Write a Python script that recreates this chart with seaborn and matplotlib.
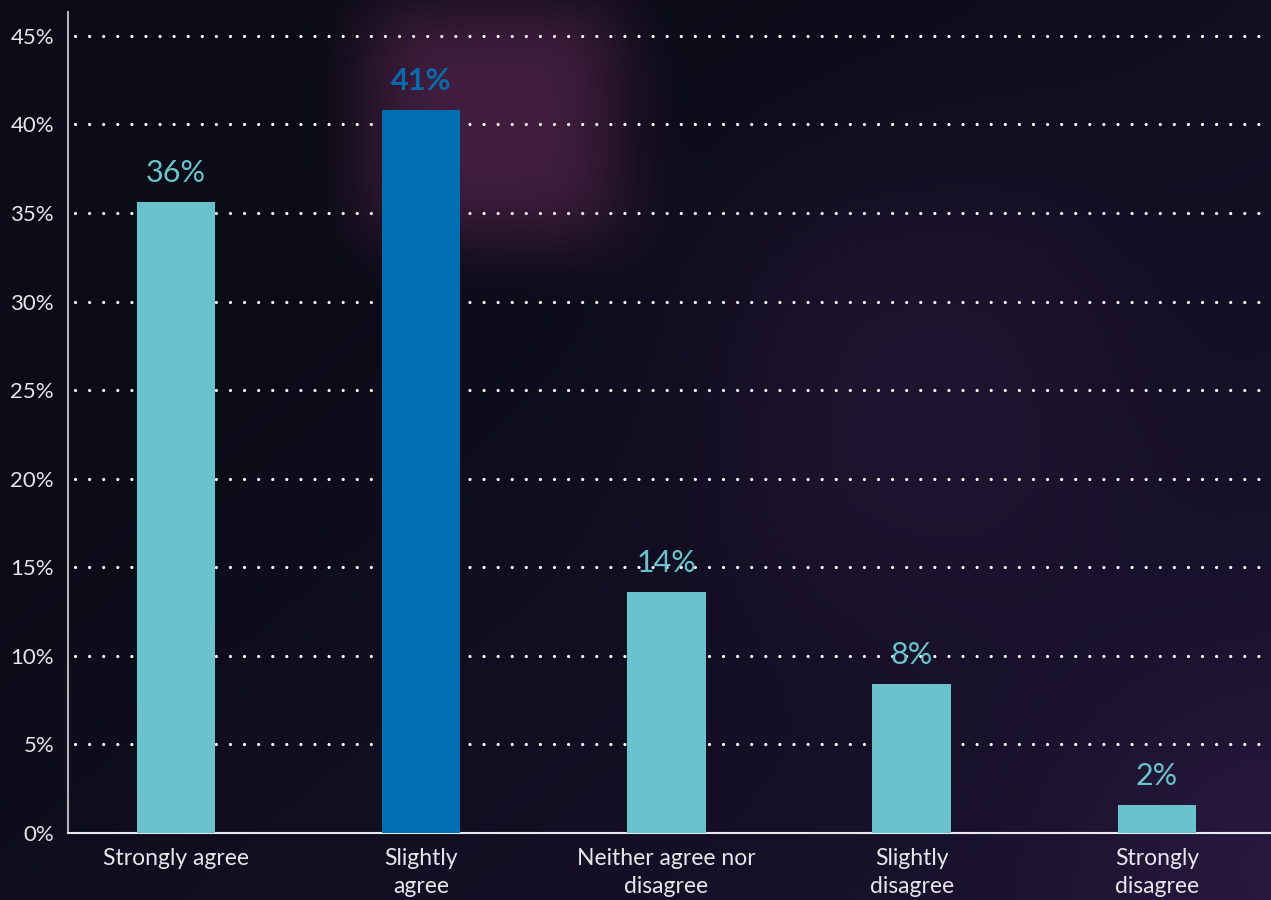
import numpy as np
import pandas as pd
import matplotlib
matplotlib.use("Agg")
import matplotlib.pyplot as plt
import seaborn as sns

# Survey responses
categories = ["Strongly agree", "Slightly\nagree", "Neither agree nor\ndisagree",
              "Slightly\ndisagree", "Strongly\ndisagree"]
shares = [35.6, 40.8, 13.6, 8.4, 1.6]
bar_colors = ["#6ac3cc", "#0070b2", "#6ac3cc", "#6ac3cc", "#6ac3cc"]
yticks = [0, 5, 10, 15, 20, 25, 30, 35, 40, 45]

sns.set_theme(style="dark")
plt.rcParams["font.family"] = ["Lato", "DejaVu Sans"]

W, H = 1271, 900
fig = plt.figure(figsize=(W / 100, H / 100), dpi=100)

# Dark backdrop with soft purple glows
bg = fig.add_axes([0, 0, 1, 1], zorder=0)
bg.set_axis_off()
yy, xx = np.mgrid[0:H:2, 0:W:2].astype(float)
base = np.array([10, 11, 22], float) / 255
tint = np.array([30, 20, 52], float) / 255
t = np.clip((xx / W) * 0.6 + (yy / H) * 0.5 - 0.25, 0, 1)
img = base[None, None, :] * (1 - t[..., None]) + tint[None, None, :] * t[..., None]


def glow(cx, cy, rx, ry, color, strength, power=4):
    d = (np.abs(xx - cx) / rx) ** power + (np.abs(yy - cy) / ry) ** power
    w = np.exp(-d) * strength
    c = np.array(color, float) / 255
    return w[..., None], c


for cx, cy, rx, ry, col, s, p in [
    (492, 120, 135, 125, (68, 30, 64), 0.95, 4),
    (920, 400, 200, 220, (40, 24, 58), 0.55, 2.5),
    (1271, 860, 220, 200, (48, 28, 72), 0.55, 2),
]:
    w, c = glow(cx, cy, rx, ry, col, s, p)
    img = img * (1 - w) + c[None, None, :] * w

bg.imshow(img, extent=[0, 1, 0, 1], aspect="auto", transform=bg.transAxes)

# Bar chart
left, bottom = 68 / W, (H - 833) / H
ax = fig.add_axes([left, bottom, 1 - left, (833 - 12) / H], zorder=1)
ax.set_facecolor("none")

df = pd.DataFrame({"category": categories, "share": shares})
sns.barplot(data=df, x="category", y="share", hue="category",
            palette=bar_colors, width=0.32, saturation=1, legend=False,
            linewidth=0, edgecolor="none", ax=ax, zorder=3)

ax.set_xlim(-0.44, 4.465)
ax.set_ylim(0, 46.35)
ax.set_yticks(yticks)
ax.set_yticklabels([f"{v}%" for v in yticks], color="#e6e6ea", fontsize=16)
ax.tick_params(axis="x", colors="#e6e6ea", labelsize=16.5, length=0, pad=11)
ax.tick_params(axis="y", length=0, pad=10)
ax.set_xlabel("")
ax.set_ylabel("")

for lab in ax.get_xticklabels():
    lab.set_linespacing(1.38)
    lab.set_va("top")

ax.grid(False)
for v in yticks[1:]:
    ax.axhline(v, xmin=0.006, xmax=1, color="white", linewidth=2.3,
               linestyle=(0, (0.01, 4.4)), dash_capstyle="round", zorder=1)

for side in ["top", "right"]:
    ax.spines[side].set_visible(False)
ax.spines["left"].set_color("#b0b0b8")
ax.spines["left"].set_linewidth(1.5)
ax.spines["bottom"].set_color("#e8e8ee")
ax.spines["bottom"].set_linewidth(1.5)

# Value labels above bars
for i, (v, c) in enumerate(zip(shares, bar_colors)):
    bold = c == "#0070b2"
    ax.text(i, v + 0.85, f"{v:.0f}%", ha="center", va="bottom",
            color="#0a6aab" if bold else "#6ac3cc",
            fontsize=22, fontweight="bold" if bold else "normal", zorder=4)

fig.savefig("out.png", dpi=100)
